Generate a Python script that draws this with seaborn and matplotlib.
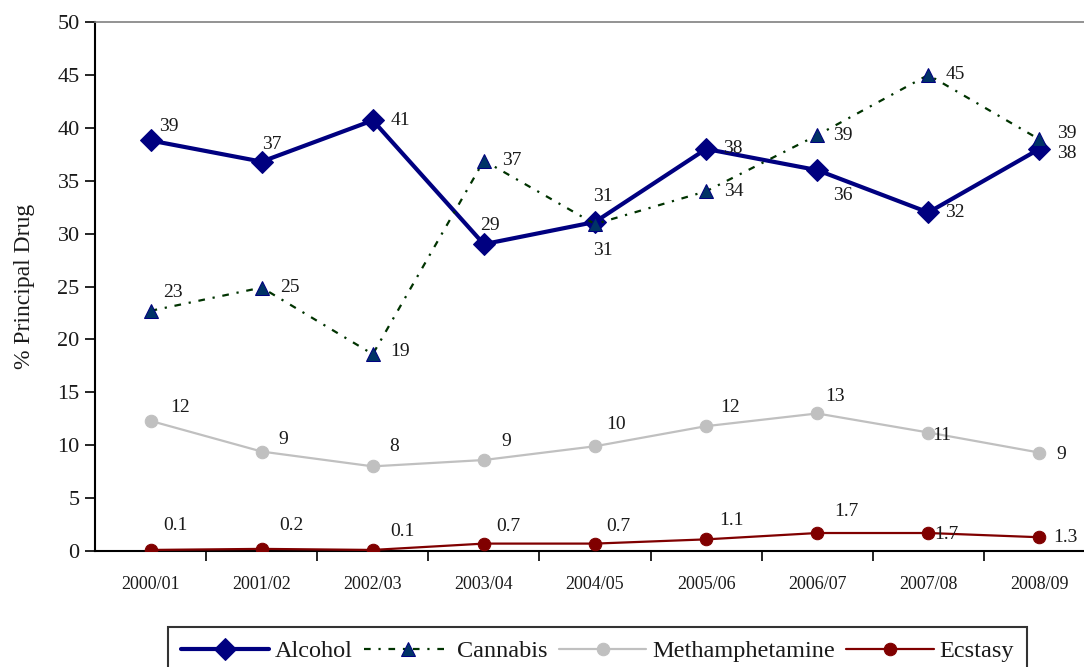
import numpy as np
import pandas as pd
import matplotlib
matplotlib.use("Agg")
import matplotlib.pyplot as plt
from matplotlib.ticker import FixedLocator
import seaborn as sns

# Financial years and share (%) of treatment episodes by principal drug
years = ["2000/01", "2001/02", "2002/03", "2003/04", "2004/05",
         "2005/06", "2006/07", "2007/08", "2008/09"]
alcohol = [38.8, 36.8, 40.7, 29.0, 31.1, 38.0, 36.0, 32.0, 38.0]
cannabis = [22.7, 24.9, 18.6, 36.9, 30.9, 34.0, 39.3, 45.0, 38.9]
methamphetamine = [12.3, 9.4, 8.0, 8.6, 9.9, 11.8, 13.0, 11.2, 9.3]
ecstasy = [0.1, 0.2, 0.1, 0.7, 0.7, 1.1, 1.7, 1.7, 1.3]

# Label offsets in pixels (dx, dy) for each point
off_alcohol = [(18, 14), (10, 17), (28, 0), (6, 19), (8, 25),
               (27, 0), (26, -25), (27, 0), (27, -5)]
off_cannabis = [(22, 18), (28, 0), (27, 3), (28, 0), (8, -26),
                (28, 0), (26, 0), (27, 0), (27, 6)]
off_meth = [(30, 13), (22, 12), (21, 20), (22, 19), (21, 22),
            (24, 19), (18, 17), (13, -3), (22, -2)]
off_ecstasy = [(25, 24), (30, 23), (30, 18), (24, 17), (23, 17),
               (25, 19), (29, 22), (18, -1), (26, 0)]

sns.set_style("ticks")
plt.rcParams["font.family"] = ["Liberation Serif", "DejaVu Serif"]

fig = plt.figure(figsize=(10.84, 6.67), dpi=100)
ax = fig.add_axes([95 / 1084, 116 / 667, 1000 / 1084, 529 / 667])

x = np.arange(len(years))
series = [
    ("Alcohol", alcohol, dict(color="#000080", lw=3.0, marker="D", ms=11,
                              mfc="#000080", mec="#000080", ls="-"),
     off_alcohol, "{:.0f}"),
    ("Cannabis", cannabis, dict(color="#003300", lw=1.6, marker="^", ms=10,
                                mfc="#003366", mec="#000080",
                                ls=(0, (3, 3.5, 1, 3.5))),
     off_cannabis, "{:.0f}"),
    ("Methamphetamine", methamphetamine, dict(color="#C0C0C0", lw=1.6, marker="o",
                                              ms=9, mfc="#C0C0C0", mec="#C0C0C0",
                                              ls="-"),
     off_meth, "{:.0f}"),
    ("Ecstasy", ecstasy, dict(color="#800000", lw=1.6, marker="o", ms=9,
                              mfc="#800000", mec="#800000", ls="-"),
     off_ecstasy, "{:.1f}"),
]

for name, vals, style, offs, fmt in series:
    df = pd.DataFrame({"x": x, "y": vals})
    sns.lineplot(data=df, x="x", y="y", ax=ax, color=style["color"],
                 linewidth=style["lw"], marker=style["marker"],
                 markersize=style["ms"], markerfacecolor=style["mfc"],
                 markeredgecolor=style["mec"], linestyle=style["ls"],
                 label=name, legend=False, zorder=3)
    for xi, v, (dx, dy) in zip(x, vals, offs):
        ax.annotate(fmt.format(v), (xi, v), xytext=(dx, dy),
                    textcoords="offset pixels", ha="center", va="center",
                    fontsize=14, color="#1a1a1a", zorder=4)

ax.set_xlim(-0.5, len(years) - 0.5)
ax.set_ylim(0, 50)
ax.set_yticks(np.arange(0, 51, 5))
ax.set_xticks(x)
ax.set_xticklabels(years, fontsize=13, color="#1a1a1a")
ax.xaxis.set_minor_locator(FixedLocator(np.arange(0.5, len(years) - 0.5, 1)))
ax.tick_params(axis="x", which="major", length=0, pad=18)
ax.tick_params(axis="x", which="minor", length=7, width=1.2, color="black",
               direction="out")
ax.tick_params(axis="y", length=7, width=1.2, color="black", direction="out",
               labelsize=16, labelcolor="#1a1a1a", pad=4)
ax.set_xlabel("")
ax.set_ylabel("% Principal Drug", fontsize=17, color="#1a1a1a", labelpad=16)

for side in ("left", "bottom"):
    ax.spines[side].set_color("black")
    ax.spines[side].set_linewidth(1.5)
ax.spines["top"].set_visible(True)
ax.spines["top"].set_color("#808080")
ax.spines["top"].set_linewidth(1.2)
ax.spines["right"].set_visible(False)
ax.grid(False)

h, l = ax.get_legend_handles_labels()
leg = fig.legend(h, l, loc="upper left", bbox_to_anchor=(168 / 1084, 1 - 627 / 667),
                 ncol=4, fontsize=17.5, frameon=True, fancybox=False,
                 handlelength=3.6, handletextpad=0.25, columnspacing=0.45,
                 borderpad=0.55, borderaxespad=0, edgecolor="black")
leg.get_frame().set_linewidth(1.5)
for t in leg.get_texts():
    t.set_color("#1a1a1a")

fig.savefig("out.png", dpi=100)
